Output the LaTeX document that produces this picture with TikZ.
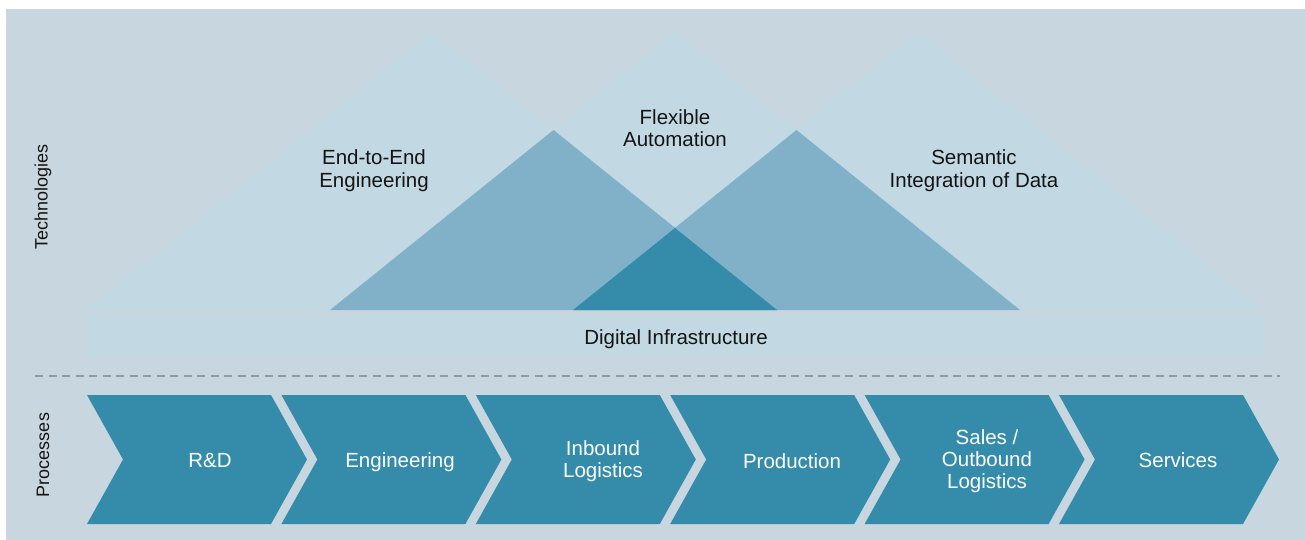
\documentclass[tikz,border=0pt]{standalone}
\usepackage{fontspec}
\setmainfont{Liberation Sans}
\definecolor{bgc}{HTML}{C8D7DF}
\definecolor{lightc}{HTML}{C2D9E4}
\definecolor{midc}{HTML}{81B1C8}
\definecolor{darkc}{HTML}{348BAA}
\definecolor{dashc}{HTML}{8E9BA2}
\definecolor{txtc}{HTML}{141414}
\tikzset{
  lbl/.style={align=center, text=txtc, font=\fontsize{20.5}{22.5}\selectfont, inner sep=0pt},
  slbl/.style={align=center, text=txtc, font=\fontsize{18}{21}\selectfont, inner sep=0pt},
  plbl/.style={align=center, text=white, font=\fontsize{20.5}{22}\selectfont, inner sep=0pt},
  chev/.style={fill=darkc, draw=none},
}
\begin{document}
\begin{tikzpicture}[x=1pt,y=-1pt]
\useasboundingbox (0,0) rectangle (1305,540);
\fill[white] (0,0) rectangle (1305,540);
\fill[bgc] (6,9) rectangle (1305,540);
% light triangles
\fill[lightc] (87,310) -- (432,32) -- (777,310) -- cycle;
\fill[lightc] (330,310) -- (675,32) -- (1020,310) -- cycle;
\fill[lightc] (573,310) -- (918,32) -- (1263,310) -- cycle;
% mid overlaps
\fill[midc] (330,310) -- (553.5,130) -- (777,310) -- cycle;
\fill[midc] (573,310) -- (796.5,130) -- (1020,310) -- cycle;
% dark overlap
\fill[darkc] (573,310) -- (675,228) -- (777,310) -- cycle;
% digital infrastructure band
\fill[lightc] (87,316) rectangle (1265,356);
\node[lbl] (di) at (676,339) {Digital Infrastructure};
% tech labels
\node[lbl] (e2e) at (374,170.5) {End-to-End\\Engineering};
\node[lbl] (flex) at (675,128) {Flexible\\Automation};
\node[lbl] (sem) at (974,170.5) {Semantic\\Integration of Data};
\node[slbl, rotate=90] (tech) at (43,197) {Technologies};
\node[slbl, rotate=90] (proc) at (43,455) {Processes};
% dashed separator
\coordinate (dl) at (35,376);
\coordinate (dr) at (1280,376);
\draw[dashc, line width=1.3pt, dash pattern=on 8pt off 5.5pt] (dl) -- (dr);
% chevrons
\foreach \i/\t/\cx/\cy [count=\k from 0] in {rd/{R\&D}/210/460.5, eng/{Engineering}/400/462.5, inb/{Inbound\\Logistics}/603/461.5, prod/{Production}/792/461, sales/{Sales /\\Outbound\\Logistics}/987/461.5, serv/{Services}/1178/460.5} {
  \pgfmathsetmacro{\L}{87+194.4*\k}
  \fill[chev] (\L,395) -- ({\L+184},395) -- ({\L+220},459.5) -- ({\L+184},524) -- (\L,524) -- ({\L+36},459.5) -- cycle;
  \node[plbl] (\i) at (\cx,\cy) {\t};
}
\end{tikzpicture}
\end{document}
